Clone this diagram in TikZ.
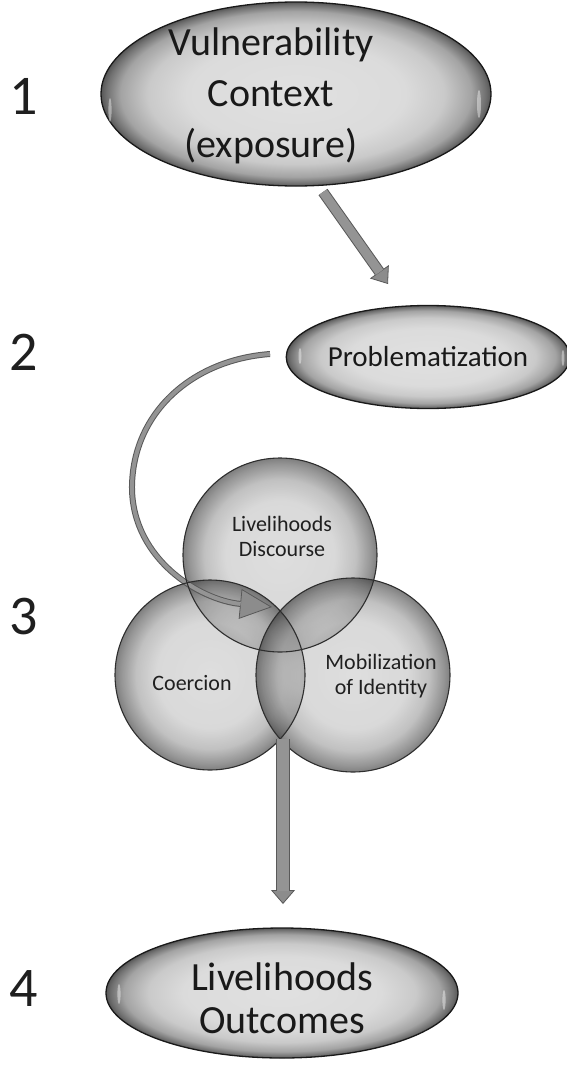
\documentclass[tikz,border=0pt]{standalone}
\usepackage{fontspec}
\setmainfont{Carlito}
\usetikzlibrary{shapes.geometric,arrows.meta,calc}
\pgfdeclareradialshading{orb}{\pgfpoint{0bp}{0bp}}{color(0bp)=(black!12); color(14bp)=(black!14); color(19bp)=(black!21); color(22.5bp)=(black!36); color(24.3bp)=(black!56); color(25bp)=(black!66); color(50bp)=(black!66)}
\pgfdeclareradialshading{bubble}{\pgfpoint{0bp}{0bp}}{color(0bp)=(black!19); color(14bp)=(black!22); color(19.5bp)=(black!36); color(23.5bp)=(black!62); color(25bp)=(black!74); color(50bp)=(black!74)}
\tikzset{
  oval/.style={ellipse, shade, shading=orb, draw=black!90, line width=1.3pt, inner sep=0pt, align=center, text=black!90},
  ovaltext/.style={align=center, text=black!90, inner sep=0pt},
  bub/.style={circle, shade, shading=bubble, fill opacity=0.68, text opacity=1, draw=none, inner sep=0pt},
  rim/.style={draw=black!82, line width=1.1pt},
  shine/.style={fill=white, fill opacity=0.42, draw=none},
  numlabel/.style={font=\fontsize{56}{60}\selectfont, text=black!88, inner sep=0pt},
  ctext/.style={font=\fontsize{22}{25}\selectfont, align=center, text=black!88, inner sep=0pt},
  tipline/.style={line width=0.8pt, draw=black!65},
  shaftout/.style={draw=black!65},
  shaftin/.style={draw=black!42},
}
\begin{document}
\begin{tikzpicture}[x=1pt,y=-1pt]
\useasboundingbox (0,0) rectangle (567,1065);
% numbers
\node[numlabel] (n1) at (24,96) {1};
\node[numlabel] (n2) at (24,352) {2};
\node[numlabel] (n3) at (24,617) {3};
\node[numlabel] (n4) at (24,989) {4};
% ellipses
\node[oval, minimum width=390pt, minimum height=184pt] (vul) at (296,94) {};
\node[ovaltext, font=\fontsize{40}{51}\selectfont] (vult) at (271,96) {Vulnerability\\Context\\(exposure)};
\node[oval, minimum width=274pt, minimum height=103pt, font=\fontsize{29}{33}\selectfont] (prob) at (428,357) {Problematization};
\node[oval, minimum width=352pt, minimum height=130pt] (out) at (282,993) {};
\node[ovaltext, font=\fontsize{40}{43}\selectfont] (outt) at (282,998) {Livelihoods\\Outcomes};
% highlights
\fill[shine] (110,110) ellipse[x radius=1.6, y radius=12];
\fill[shine] (479,104) ellipse[x radius=2, y radius=14];
\fill[shine] (300,356) ellipse[x radius=1.5, y radius=8];
\fill[shine] (563,358) ellipse[x radius=1.4, y radius=8];
\fill[shine] (119,994) ellipse[x radius=1.6, y radius=10];
\fill[shine] (444,1000) ellipse[x radius=1.6, y radius=10];
% circles
\node[bub, minimum size=194pt] (ld) at (280,555) {};
\node[bub, minimum size=190pt] (co) at (210,675) {};
\node[bub, minimum size=194pt] (mo) at (353,675) {};
% arrow 1
\coordinate (a1s) at (323,192);
\coordinate (a1e) at (388,284);
\draw[tipline, -{Triangle[width=23pt,length=15pt,fill=black!45]}] (a1s) -- (a1e);
\draw[shaftout, line width=11pt, shorten >=15pt] (a1s) -- (a1e);
\draw[shaftin, line width=9pt, shorten >=14.5pt] (a1s) -- (a1e);
% curved arrow
\coordinate (ct) at (270,354);
\coordinate (cm) at (132,490);
\coordinate (ch) at (272,607);
\draw[tipline, -{Triangle[width=30pt,length=32pt,fill=black!45]}] (ct) .. controls (190,360) and (131,415) .. (cm) .. controls (134,560) and (200,600) .. (ch);
\draw[shaftout, line width=6pt, shorten >=32pt] (ct) .. controls (190,360) and (131,415) .. (cm) .. controls (134,560) and (200,600) .. (ch);
\draw[shaftin, line width=4pt, shorten >=31.5pt] (ct) .. controls (190,360) and (131,415) .. (cm) .. controls (134,560) and (200,600) .. (ch);
% circle outlines
\draw[rim] (ld.center) circle[radius=97];
\draw[rim] (co.center) circle[radius=95];
\draw[rim] (mo.center) circle[radius=97];
% circle texts
\node[ctext] (ldt) at (282,536) {Livelihoods\\Discourse};
\node[ctext] (cot) at (192,683) {Coercion};
\node[ctext] (mot) at (381,676) {Mobilization\\of Identity};
% down arrow
\coordinate (d1s) at (283,739);
\coordinate (d1e) at (283,904);
\draw[tipline, -{Triangle[width=24pt,length=14pt,fill=black!45]}] (d1s) -- (d1e);
\draw[shaftout, line width=14pt, shorten >=14pt] (d1s) -- (d1e);
\draw[shaftin, line width=12pt, shorten >=13.5pt] (d1s) -- (d1e);
\end{tikzpicture}
\end{document}
